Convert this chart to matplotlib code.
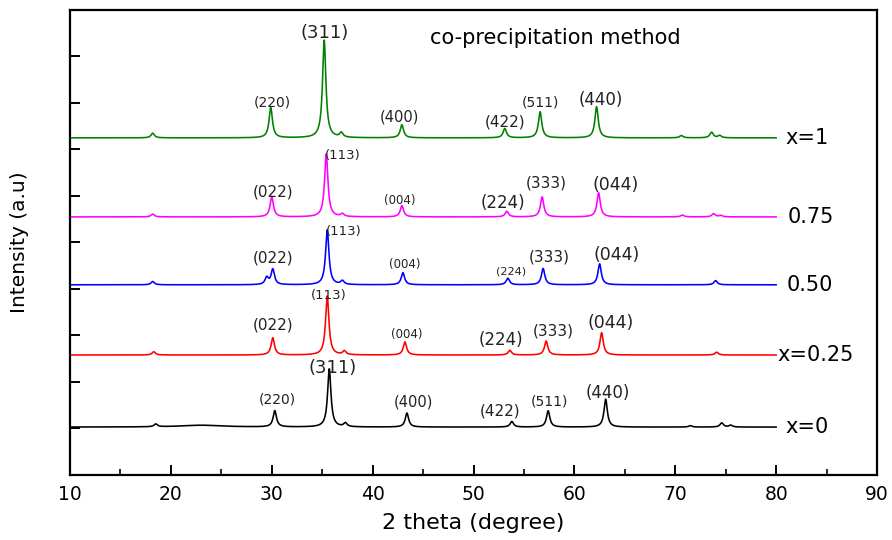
import matplotlib as mpl
import matplotlib.pyplot as plt
import numpy as np

mpl.rcParams.update(
    {
        "font.family": ["DejaVu Sans"],
        "axes.linewidth": 1.6,
    }
)

# peak positions (2 theta) and heights for each sample
SAMPLES = ["x=0", "x=0.25", "0.50", "0.75", "x=1"]
COLORS = ["black", "#ff0000", "#0000ff", "#ff00ff", "#008000"]
BASELINES = [1.03, 2.58, 4.09, 5.55, 7.25]

POS_X0 = [18.5, 23.0, 30.3, 35.7, 37.3, 43.4, 53.8, 57.4, 63.1, 71.5, 74.6, 75.5]
HT_X0 = [0.06, 0.04, 0.35, 1.25, 0.08, 0.30, 0.12, 0.35, 0.60, 0.03, 0.09, 0.04]

POS_X025 = [18.3, 30.1, 35.5, 37.2, 43.2, 53.6, 57.2, 62.7, 74.1]
HT_X025 = [0.07, 0.37, 1.27, 0.08, 0.28, 0.10, 0.30, 0.48, 0.06]

POS_X050 = [18.2, 29.5, 30.1, 35.5, 37.0, 43.0, 53.4, 56.9, 62.5, 74.0]
HT_X050 = [0.07, 0.15, 0.33, 1.18, 0.08, 0.26, 0.14, 0.35, 0.45, 0.09]

POS_X075 = [18.2, 30.0, 35.4, 37.0, 42.9, 53.3, 56.8, 62.4, 70.7, 73.8, 74.5]
HT_X075 = [0.06, 0.43, 1.35, 0.06, 0.24, 0.12, 0.43, 0.52, 0.04, 0.07, 0.03]

POS_X1 = [18.2, 29.9, 35.2, 36.9, 42.9, 53.1, 56.6, 62.2, 70.6, 73.6, 74.4]
HT_X1 = [0.10, 0.65, 2.10, 0.10, 0.28, 0.20, 0.56, 0.67, 0.05, 0.12, 0.05]

PEAKS = [
    (POS_X0, HT_X0),
    (POS_X025, HT_X025),
    (POS_X050, HT_X050),
    (POS_X075, HT_X075),
    (POS_X1, HT_X1),
]

# hkl labels: text, 2theta, y, fontsize
LABELS = [
    ("(311)", 35.2, 9.50, 13), ("(220)", 30.1, 8.00, 10), ("(400)", 42.7, 7.70, 10.5),
    ("(422)", 53.1, 7.60, 11), ("(511)", 56.6, 8.00, 10), ("(440)", 62.6, 8.06, 12),
    ("(113)", 37.0, 6.88, 9.5), ("(022)", 30.1, 6.09, 11), ("(004)", 42.7, 5.91, 8.5),
    ("(224)", 52.9, 5.85, 12), ("(333)", 57.2, 6.28, 11), ("(044)", 64.1, 6.24, 12.5),
    ("(113)", 37.1, 5.23, 9.5), ("(022)", 30.1, 4.67, 11), ("(004)", 43.2, 4.52, 8.5),
    ("(224)", 53.7, 4.37, 8), ("(333)", 57.5, 4.69, 11), ("(044)", 64.2, 4.73, 12.5),
    ("(113)", 35.6, 3.87, 9.5), ("(022)", 30.1, 3.23, 11), ("(004)", 43.4, 3.03, 8.5),
    ("(224)", 52.7, 2.90, 12), ("(333)", 57.9, 3.10, 11), ("(044)", 63.6, 3.27, 12.5),
    ("(311)", 36.0, 2.30, 13), ("(220)", 30.5, 1.63, 10), ("(400)", 44.0, 1.57, 10.5),
    ("(422)", 52.6, 1.38, 11), ("(511)", 57.5, 1.59, 10), ("(440)", 63.3, 1.76, 12),
]

SAMPLE_LABEL_X = [80.9, 80.1, 81.0, 81.1, 80.9]


def profile(two_theta, positions, heights, width=0.2):
    y = np.zeros_like(two_theta)
    for p, h in zip(positions, heights):
        # the weak hump in x=0 around 23 deg is broad
        w = 2.5 if h < 0.05 and 20 < p < 28 else width
        y += h / (1.0 + ((two_theta - p) / w) ** 2)
    return y


def main() -> None:
    fig = plt.figure(figsize=(8.92, 5.40), dpi=100)
    ax = fig.add_axes([0.0785, 0.1204, 0.9047, 0.8611])
    two_theta = np.linspace(10, 80, 3501)

    for (pos, ht), base, color, name, lx in zip(PEAKS, BASELINES, COLORS, SAMPLES, SAMPLE_LABEL_X):
        ax.plot(two_theta, base + profile(two_theta, pos, ht), color=color, lw=1.15)
        ax.text(lx, base, name, fontsize=15, ha="left", va="center", color="black")

    for text, x, y, size in LABELS:
        ax.text(x, y, text, fontsize=size, ha="center", va="center", color="#222222")

    ax.text(58.1, 9.40, "co-precipitation method", fontsize=15, ha="center", va="center")

    ax.set_xlim(10, 90)
    ax.set_ylim(0, 10)
    ax.set_xticks(np.arange(10, 91, 10))
    ax.set_xticks(np.arange(15, 90, 10), minor=True)
    ax.set_yticks(np.arange(1, 10))
    ax.set_yticklabels([])
    ax.tick_params(axis="both", which="major", direction="in", length=7, width=1.4, labelsize=13.5)
    ax.tick_params(axis="x", which="minor", direction="in", length=4, width=1.2)
    ax.tick_params(axis="x", pad=7)
    ax.set_xlabel("2 theta (degree)", fontsize=16, labelpad=7)
    ax.set_ylabel("Intensity (a.u)", fontsize=14.5, labelpad=26)

    fig.savefig("out.png", dpi=100)


if __name__ == "__main__":
    main()
